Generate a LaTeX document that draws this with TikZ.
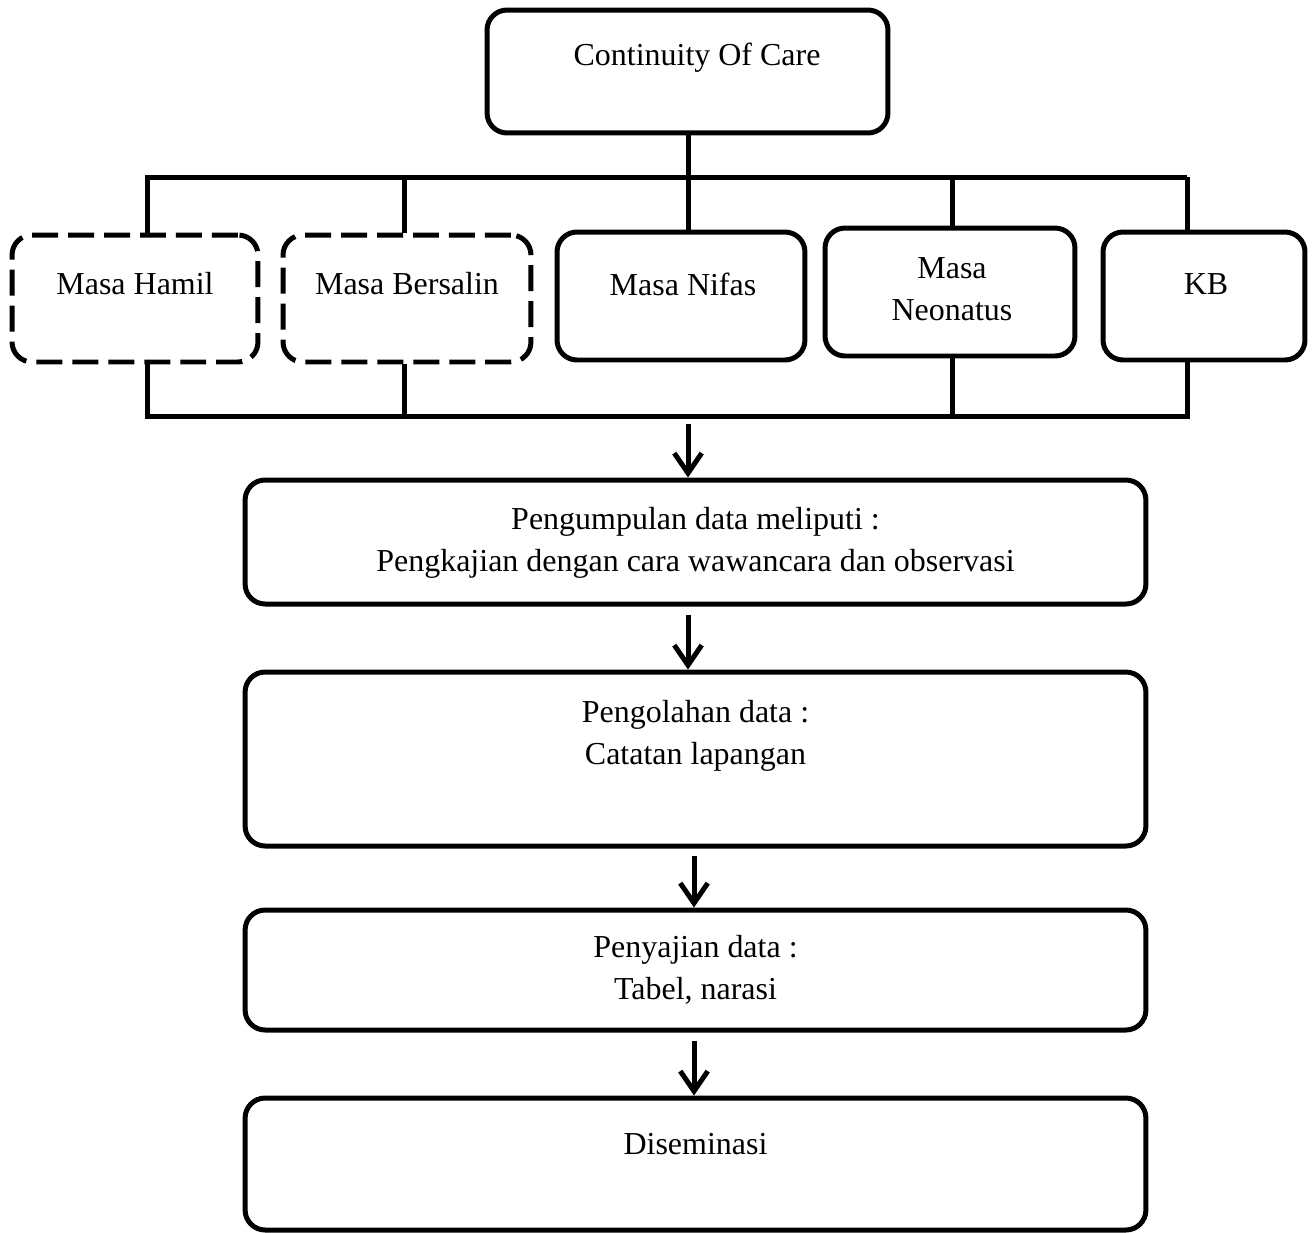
\documentclass[tikz,border=0pt]{standalone}
\usepackage{fontspec}
\setmainfont{Liberation Serif}
\usetikzlibrary{arrows.meta}
\usetikzlibrary{calc}
\tikzset{>={Straight Barb[length=4mm,width=5.5mm]}}
\tikzset{box/.style = {shape=rectangle,draw,line width=1mm,rounded corners=4mm,inner sep=0pt}}
\tikzset{dbox/.style = {box,dash pattern=on 5.2mm off 2mm}}
\tikzset{txt/.style = {align=center,font=\fontsize{18.2}{21}\selectfont}}
\tikzset{wire/.style = {line width=1mm}}
\tikzset{flow/.style = {line width=1mm,->,shorten <=1.6mm}}

\begin{document}
\begin{tikzpicture}[x=0.02cm,y=-0.02cm]
                \useasboundingbox (0,0) rectangle (1312,1232);

                \node[box,minimum width=8.02cm,minimum height=2.46cm] (coc) at (687.5,71.5) {};
                \node[dbox,minimum width=4.92cm,minimum height=2.54cm] (hamil) at (135,298.5) {};
                \node[dbox,minimum width=4.96cm,minimum height=2.54cm] (bersalin) at (407,298.5) {};
                \node[box,minimum width=4.96cm,minimum height=2.56cm] (nifas) at (681,296) {};
                \node[box,minimum width=5cm,minimum height=2.56cm] (neonatus) at (950,292) {};
                \node[box,minimum width=4.04cm,minimum height=2.56cm] (kb) at (1204,296) {};
                \node[box,minimum width=18.02cm,minimum height=2.48cm] (kumpul) at (695.5,542) {};
                \node[box,minimum width=18.02cm,minimum height=3.48cm] (olah) at (695.5,759) {};
                \node[box,minimum width=18.02cm,minimum height=2.4cm] (saji) at (695.5,970) {};
                \node[box,minimum width=18.02cm,minimum height=2.64cm] (sebar) at (695.5,1164) {};

                \node[txt] (coctxt) at (697,58) {Continuity Of Care};
                \node[txt] (hamiltxt) at (135,284) {Masa Hamil};
                \node[txt] (bersalintxt) at (407,284) {Masa Bersalin};
                \node[txt] (nifastxt) at (683,284) {Masa Nifas};
                \node[txt] (neonatustxt) at (952,289) {Masa\\[3pt]Neonatus};
                \node[txt] (kbtxt) at (1206,284) {KB};
                \node[txt] (kumpultxt) at (695.5,543) {Pengumpulan data meliputi :\\[3pt]Pengkajian dengan cara wawancara dan observasi};
                \node[txt] (olahtxt) at (695.5,736) {Pengolahan data :\\[3pt]Catatan lapangan};
                \node[txt] (sajitxt) at (695.5,970) {Penyajian data :\\[3pt]Tabel, narasi};
                \node[txt] (sebartxt) at (695.5,1144) {Diseminasi};

                \coordinate (t1) at (147,177);
                \coordinate (t2) at (404,177);
                \coordinate (t3) at (688,177);
                \coordinate (t4) at (952,177);
                \coordinate (t5) at (1187,177);
                \coordinate (b1) at (147,416);
                \coordinate (b2) at (404,416);
                \coordinate (b3) at (688,416);
                \coordinate (b4) at (952,416);
                \coordinate (b5) at (1187,416);

                \draw[wire] (t1 |- hamil.north) -- (t1) -- (t5);
                \draw[wire] (t3 |- coc.south) -- (t3 |- nifas.north);
                \draw[wire] (t2) -- (t2 |- bersalin.north);
                \draw[wire] (t4) -- (t4 |- neonatus.north);
                \draw[wire] (t5) -- (t5 |- kb.north);

                \draw[wire] (b1 |- hamil.south) -- (b1) -- (b5) -- (b5 |- kb.south);
                \draw[wire] (b2 |- bersalin.south) -- (b2);
                \draw[wire] (b4 |- neonatus.south) -- (b4);

                \draw[flow] (b3) -- (b3 |- kumpul.north);
                \draw[flow] (b3 |- kumpul.south) -- (b3 |- olah.north);
                \draw[flow] ($(olah.south)+(-1.5,0)$) -- ($(saji.north)+(-1.5,0)$);
                \draw[flow] ($(saji.south)+(-1.5,0)$) -- ($(sebar.north)+(-1.5,0)$);
            \end{tikzpicture}
\end{document}
